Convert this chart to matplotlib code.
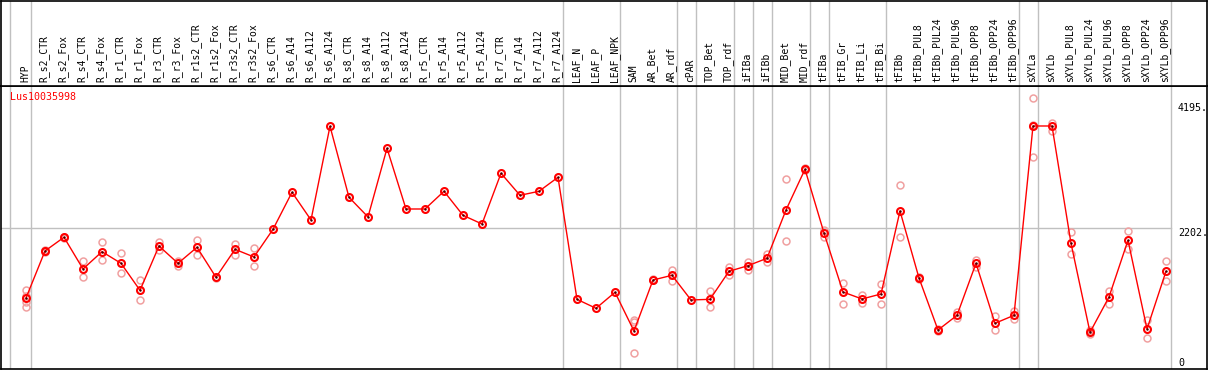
import matplotlib
matplotlib.use("Agg")
import matplotlib.pyplot as plt

categories = ["HYP", "R_s2_CTR", "R_s2_Fox", "R_s4_CTR", "R_s4_Fox", "R_r1_CTR", "R_r1_Fox",
              "R_r3_CTR", "R_r3_Fox", "R_r1s2_CTR", "R_r1s2_Fox", "R_r3s2_CTR", "R_r3s2_Fox",
              "R_s6_CTR", "R_s6_A14", "R_s6_A112", "R_s6_A124", "R_s8_CTR", "R_s8_A14",
              "R_s8_A112", "R_s8_A124", "R_r5_CTR", "R_r5_A14", "R_r5_A112", "R_r5_A124",
              "R_r7_CTR", "R_r7_A14", "R_r7_A112", "R_r7_A124", "LEAF_N", "LEAF_P", "LEAF_NPK",
              "SAM", "AR_Bet", "AR_rdf", "cPAR", "TOP_Bet", "TOP_rdf", "iFIBa", "iFIBb",
              "MID_Bet", "MID_rdf", "tFIBa", "tFIB_Gr", "tFIB_Li", "tFIB_Bi", "tFIBb",
              "tFIBb_PUL8", "tFIBb_PUL24", "tFIBb_PUL96", "tFIBb_OPP8", "tFIBb_OPP24",
              "tFIBb_OPP96", "sXYLa", "sXYLb", "sXYLb_PUL8", "sXYLb_PUL24", "sXYLb_PUL96",
              "sXYLb_OPP8", "sXYLb_OPP24", "sXYLb_OPP96"]

group_sizes = [1, 28, 3, 3, 1, 2, 1, 1, 2, 1, 3, 7, 1, 7]

means = [1021, 1818, 2050, 1513, 1806, 1609, 1152, 1902, 1609, 1880, 1372, 1846, 1716,
         2185, 2812, 2343, 3930, 2727, 2394, 3557, 2529, 2529, 2829, 2422, 2275,
         3134, 2761, 2829, 3066, 999, 847, 1118,
         462, 1326, 1406, 988, 999, 1474, 1569, 1694,
         2512, 3202, 2123, 1123, 1005, 1089, 2495,
         1360, 479, 728, 1609, 593, 728,
         3935, 3935, 1948, 440, 1038, 1999, 496, 1474]

replicates = [[1157, 1055, 954, 869], [1840, 1800], [2060, 2040], [1643, 1377], [1965, 1670],
              [1779, 1440], [1321, 983], [1975, 1835], [1648, 1569], [2004, 1755], [1380, 1365],
              [1936, 1745], [1863, 1558],
              [], [], [], [], [], [], [], [], [], [], [], [], [], [], [], [], [], [], [],
              [649, 620, 85], [1335, 1318], [1501, 1309], [], [1140, 864], [1552, 1411],
              [1626, 1496], [1767, 1636], [3037, 1982], [3215, 3190], [2173, 2050],
              [1281, 920], [1067, 942], [1259, 920], [2931, 2055], [1370, 1350], [490, 470],
              [779, 683], [1665, 1552], [717, 474], [796, 666], [4404, 3952, 3405],
              [3991, 3856], [2140, 1762], [479, 410], [1145, 925], [2151, 1846],
              [649, 344], [1643, 1315]]

gene_name = "Lus10035998"
ytick_labels = ["4195.", "2202.", "0"]
ytick_values = [4320, 2202, 0]
gridline_value = 2202

W, H = 1209, 370
fig = plt.figure(figsize=(W / 100, H / 100), dpi=100)
font = "DejaVu Sans Mono"

# pixel geometry
x0_px, x1_px = 1, 1207
hdr_bot = 86
plot_bot = 369
x_first = 26
step = 19
xlim = ((x0_px - x_first) / step, (x1_px - x_first) / step)
px_per_unit = 260 / 4404
zero_px = 358.3
ylim = ((zero_px - plot_bot) / px_per_unit, (zero_px - hdr_bot) / px_per_unit)

ax = fig.add_axes([x0_px / W, (H - plot_bot) / H, (x1_px - x0_px) / W, (plot_bot - hdr_bot) / H])
hax = fig.add_axes([x0_px / W, (H - hdr_bot) / H, (x1_px - x0_px) / W, (hdr_bot - 0.5) / H])
for a in (ax, hax):
    a.set_xlim(*xlim)
    a.set_xticks([])
    a.set_yticks([])
    for s in a.spines.values():
        s.set_color("black")
        s.set_linewidth(1.2)
ax.set_ylim(*ylim)
hax.set_ylim(0, 1)

# group separators
sep = [(10 - x_first) / step]
pos = -1
for g in group_sizes:
    pos += g
    sep.append(pos + 0.25)
for a in (ax, hax):
    for s in sep:
        a.axvline(s, color="#c0c0c0", lw=1, zorder=0)

last_sep = sep[-1]
ax.plot([xlim[0], last_sep], [gridline_value, gridline_value], color="#c0c0c0", lw=1, zorder=0)

xs = list(range(len(categories)))
# replicates
for i, reps in enumerate(replicates):
    if reps:
        ax.plot([i] * len(reps), reps, linestyle="none", marker="o", ms=5, mfc="none",
                mec="#f0a0a0", mew=1.1, zorder=2)
ax.plot(xs, means, color="red", lw=1, zorder=3)
ax.plot(xs, means, linestyle="none", marker="o", ms=5, mfc="none", mec="red", mew=1.5, zorder=4)
ax.plot(xs, means, linestyle="none", marker=".", ms=1.5, color="#400000", zorder=5)

# labels
for i, c in enumerate(categories):
    hax.text(i - 0.05, (hdr_bot - 82) / hdr_bot, c, rotation=90, ha="center", va="bottom",
             fontsize=7, family=font, color="black")

ax.text((10 - x_first) / step, (zero_px - 97) / px_per_unit, gene_name, color="red",
        fontsize=7.2, family=font, ha="left", va="center")

xt = (1178 - x_first) / step
for lab, v in zip(ytick_labels, ytick_values):
    ax.text(xt, v, lab, fontsize=7.2, family=font, ha="left", va="top", color="black")

fig.savefig("out.png", dpi=100)
